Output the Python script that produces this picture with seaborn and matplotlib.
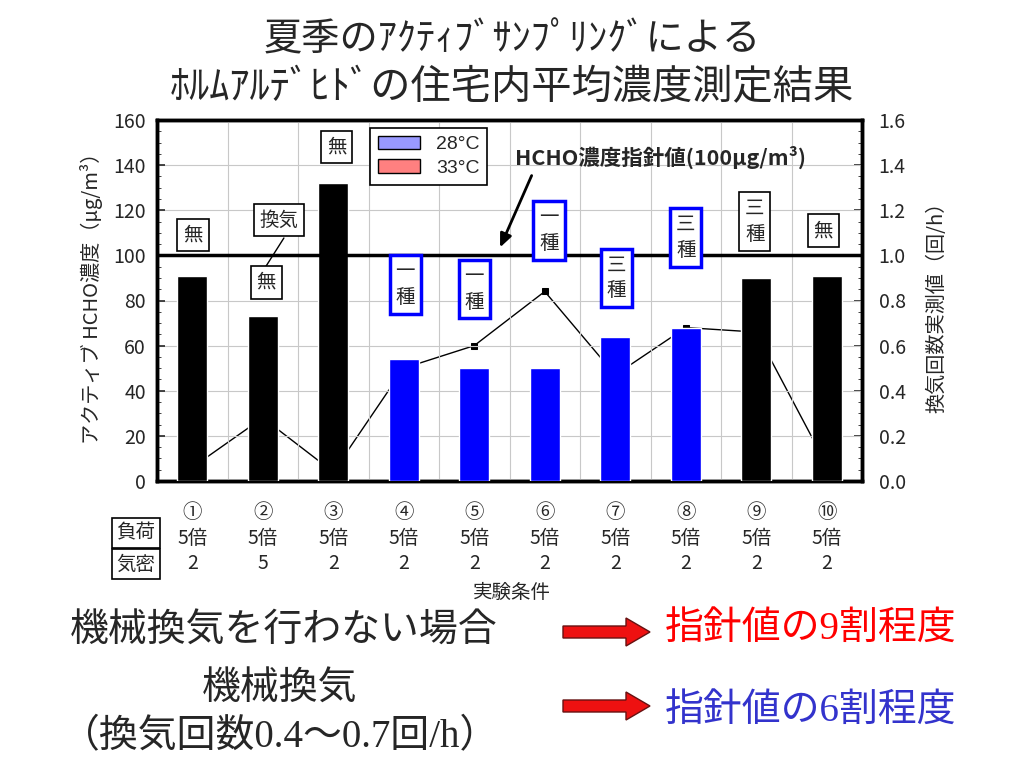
"""
Summer active-sampling HCHO concentration chart (bars) with measured
air-change rate (line, right axis).
"""
import matplotlib
matplotlib.use("Agg")
import matplotlib.pyplot as plt
from matplotlib.patches import FancyArrow, Patch
from matplotlib.ticker import MultipleLocator
import numpy as np
import pandas as pd
import seaborn as sns

# --------------------------------------------------------------------------- #
# Data
# --------------------------------------------------------------------------- #
CASES = ["①", "②", "③", "④", "⑤", "⑥", "⑦", "⑧", "⑨", "⑩"]
LOAD = ["5倍", "5倍", "5倍", "5倍", "5倍", "5倍", "5倍", "5倍", "5倍", "5倍"]
AIRTIGHT = ["2", "5", "2", "2", "2", "2", "2", "2", "2", "2"]
HCHO = [91, 73, 132, 54, 50, 50, 64, 68, 90, 91]               # ug/m3
ACH = [0.06, 0.28, 0.04, 0.50, 0.60, 0.84, 0.47, 0.68, 0.66, 0.07]  # 1/h
MECH = [False, False, False, True, True, True, True, True, False, False]
VENT = ["無", "無", "無", "一\n種", "一\n種", "一\n種", "三\n種", "三\n種", "三\n種", "無"]
LEGEND_LABELS = ["28°C", "33°C"]
GUIDE = 100

# --------------------------------------------------------------------------- #
# Style
# --------------------------------------------------------------------------- #
sns.set_style("white")
CJK = ["Noto Sans CJK JP", "DejaVu Sans"]
SERIF_CJK = ["Liberation Serif", "Noto Sans CJK JP"]
plt.rcParams["font.family"] = CJK
BLUE = "#0000ff"
GRID = "#c8c8c8"

df = pd.DataFrame({"case": CASES, "hcho": HCHO})
palette = {c: (BLUE if m else "black") for c, m in zip(CASES, MECH)}

fig = plt.figure(figsize=(10.24, 7.68), dpi=100)
ax = fig.add_axes([157 / 1024, 1 - 481 / 768, 705 / 1024, 361 / 768])
ax2 = ax.twinx()

# line on the twin axis, drawn behind the bars
sns.lineplot(x=np.arange(len(ACH)), y=ACH, ax=ax2, color="black", lw=1,
             marker="s", markersize=5, markeredgecolor="black")
ax2.set_ylim(0, 1.6)
ax2.yaxis.set_major_locator(MultipleLocator(0.2))
ax2.yaxis.set_minor_locator(MultipleLocator(0.05))
ax2.yaxis.set_major_formatter(matplotlib.ticker.FormatStrFormatter("%.1f"))
ax2.tick_params(axis="y", which="both", direction="in", labelsize=14, pad=12)
ax2.tick_params(axis="y", which="major", length=6, width=1.2)
ax2.tick_params(axis="y", which="minor", length=3)
ax2.set_ylabel("")

sns.barplot(data=df, x="case", y="hcho", hue="case", palette=palette,
            width=0.42, saturation=1, legend=False, ax=ax, zorder=3)
ax.set_zorder(ax2.get_zorder() + 1)
ax.patch.set_visible(False)

ax.set_xlim(-0.5, len(CASES) - 0.5)
ax.set_ylim(0, 160)
ax.yaxis.set_major_locator(MultipleLocator(20))
ax.yaxis.set_minor_locator(MultipleLocator(5))
ax.set_xticks(np.arange(len(CASES)) + 0.5, minor=True)
ax.grid(True, which="major", axis="y", color=GRID, lw=0.8, zorder=0)
ax.grid(True, which="minor", axis="x", color=GRID, lw=0.8, zorder=0)
ax.set_axisbelow(True)
ax.tick_params(axis="y", which="both", direction="in", labelsize=14, pad=8)
ax.tick_params(axis="y", which="major", length=6, width=1.2)
ax.tick_params(axis="y", which="minor", length=3)
ax.tick_params(axis="x", which="both", length=0)
ax.set_xticks(np.arange(len(CASES)))
ax.set_xticklabels([f"{c}\n{l}\n{a}" for c, l, a in zip(CASES, LOAD, AIRTIGHT)],
                   fontsize=14, linespacing=1.3)
ax.tick_params(axis="x", pad=15)
ax.set_xlabel("")
ax.set_ylabel("")
for a in (ax, ax2):
    for s in a.spines.values():
        s.set_linewidth(2.5)
        s.set_color("black")

# guide value line
ax.axhline(GUIDE, color="black", lw=2.5, zorder=4)

# ventilation type boxes
box_pos = [(0.01, 109), (1.05, 88), (2.05, 148), (3.02, 87), (4.0, 85),
           (5.06, 111), (6.02, 90), (7.0, 108), (7.98, 115), (8.95, 111)]
for (bx, by), txt, m in zip(box_pos, VENT, MECH):
    ec = BLUE if m else "black"
    lw = 2.5 if m else 1.2
    ax.text(bx, by, txt, ha="center", va="center", fontsize=14, linespacing=1.3,
            zorder=6, bbox=dict(boxstyle="square,pad=0.3", fc="white", ec=ec, lw=lw))
ax.plot([1.30, 1.03], [107.7, 94.4], color="black", lw=1, zorder=5)
ax.text(1.23, 115.7, "換気", ha="center", va="center", fontsize=14, zorder=6,
        bbox=dict(boxstyle="square,pad=0.3", fc="white", ec="black", lw=1.2))

# guide value annotation
ax.text(4.58, 143.6, "HCHO濃度指針値(100μg/m³)", ha="left", va="center",
        fontsize=15.5, fontweight="bold", zorder=6)
ax.annotate("", xy=(4.35, 102.4), xytext=(4.83, 136.5),
            arrowprops=dict(arrowstyle="-|>,head_length=0.8,head_width=0.35",
                            lw=2, color="black"), zorder=6)

# legend
handles = [Patch(facecolor="#9999ff", edgecolor="black"),
           Patch(facecolor="#ff8080", edgecolor="black")]
leg = ax.legend(handles, LEGEND_LABELS, loc="upper left",
                bbox_to_anchor=(0.302, 0.978), borderaxespad=0, fancybox=False,
                framealpha=1, edgecolor="black", handlelength=2.2,
                prop={"family": ["Liberation Sans"], "size": 14},
                borderpad=0.4, labelspacing=0.3)
leg.set_zorder(7)
leg.get_frame().set_linewidth(1.2)

# axis labels
fig.text(92 / 1024, 1 - 293 / 768, "アクティブ HCHO濃度（μg/m³）", rotation=90,
         ha="center", va="center", fontsize=14.5)
fig.text(937 / 1024, 1 - 302 / 768, "換気回数実測値（回/h）", rotation=90,
         ha="center", va="center", fontsize=14.5)
fig.text(512 / 1024, 1 - 592 / 768, "実験条件", ha="center", va="center", fontsize=14)
for yy, t in ((533, "負荷"), (564, "気密")):
    fig.text(136 / 1024, 1 - yy / 768, t, ha="center", va="center", fontsize=14,
             bbox=dict(boxstyle="square,pad=0.25", fc="white", ec="black", lw=1.2))

# title
fig.text(0.5, 1 - 40 / 768, "夏季のｱｸﾃｨﾌﾞｻﾝﾌﾟﾘﾝｸﾞによる", ha="center",
         va="center", fontsize=27.5)
fig.text(0.5, 1 - 88 / 768, "ﾎﾙﾑｱﾙﾃﾞﾋﾄﾞの住宅内平均濃度測定結果", ha="center",
         va="center", fontsize=29)

# conclusions
fig.text(70 / 1024, 1 - 632 / 768, "機械換気を行わない場合", ha="left", va="center",
         fontsize=28, family=SERIF_CJK)
fig.text(280 / 1024, 1 - 690 / 768, "機械換気", ha="center", va="center",
         fontsize=28, family=SERIF_CJK)
fig.text(280 / 1024, 1 - 738 / 768, "（換気回数0.4～0.7回/h）", ha="center",
         va="center", fontsize=28, family=SERIF_CJK)
fig.text(665 / 1024, 1 - 630 / 768, "指針値の9割程度", ha="left", va="center",
         fontsize=28, color="#ff0000", family=SERIF_CJK)
fig.text(665 / 1024, 1 - 712 / 768, "指針値の6割程度", ha="left", va="center",
         fontsize=28, color="#3333cc", family=SERIF_CJK)
for yy in (632, 706):
    fig.add_artist(FancyArrow(563 / 1024, 1 - yy / 768, 87 / 1024, 0,
                              width=12 / 768, head_width=28 / 768,
                              head_length=24 / 1024, length_includes_head=True,
                              transform=fig.transFigure, fc="#ee1111",
                              ec="#661111", lw=1))

fig.savefig("out.png", dpi=100)
